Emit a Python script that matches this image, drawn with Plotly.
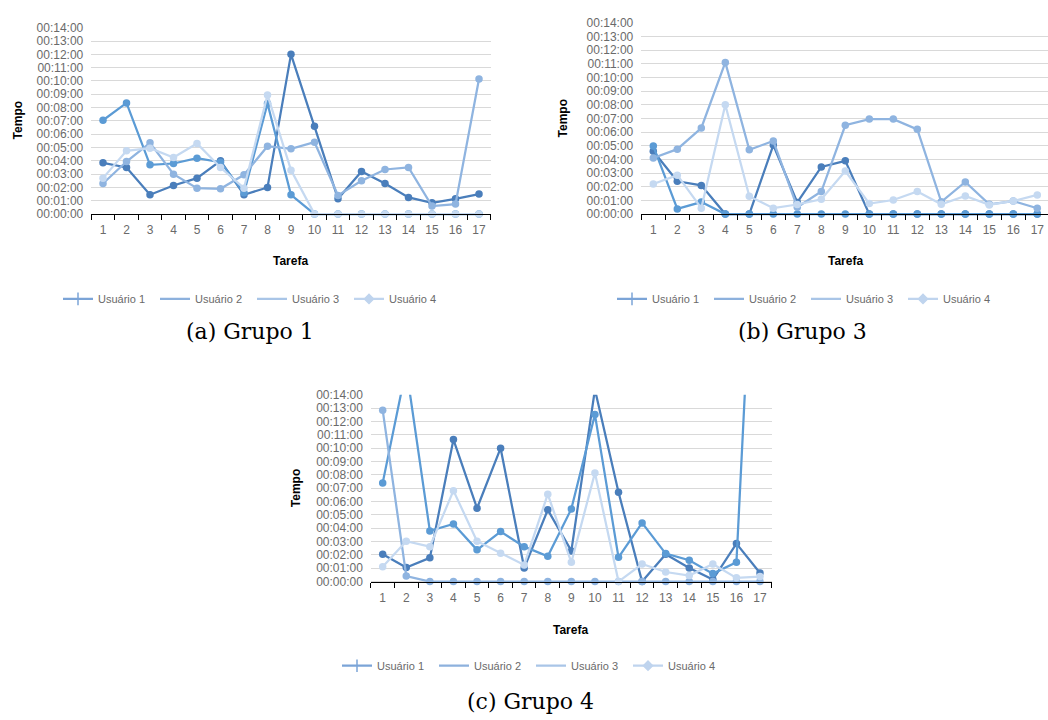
import plotly.graph_objects as go

# ---------------- data (minutes) ----------------
tasks = list(range(1, 18))
task_labels = [str(t) for t in tasks]
users = ["Usuário 1", "Usuário 2", "Usuário 3", "Usuário 4"]

# Grupo 1
g1_u1 = [3.85, 3.5, 1.45, 2.15, 2.7, 4.0, 1.45, 2.0, 12.0, 6.6, 1.15, 3.2, 2.3, 1.25, 0.85, 1.15, 1.5]
g1_u2 = [7.05, 8.35, 3.7, 3.8, 4.2, 3.9, 1.6, 8.3, 1.45, 0, 0, 0, 0, 0, 0, 0, 0]
g1_u3 = [2.3, 3.95, 5.35, 3.0, 1.95, 1.9, 2.95, 5.1, 4.9, 5.4, 1.4, 2.5, 3.35, 3.5, 0.6, 0.75, 10.15]
g1_u4 = [2.7, 4.75, 4.95, 4.25, 5.3, 3.5, 1.95, 8.95, 3.3, 0, 0, 0, 0, 0, 0, 0, 0]

# Grupo 3
g3_u1 = [4.6, 2.4, 2.1, 0, 0, 5.05, 0.85, 3.45, 3.9, 0, 0, 0, 0, 0, 0, 0, 0]
g3_u2 = [4.98, 0.38, 0.88, 0, 0, 0, 0, 0, 0, 0, 0, 0, 0, 0, 0, 0, 0]
g3_u3 = [4.1, 4.75, 6.3, 11.1, 4.7, 5.35, 0.5, 1.65, 6.5, 6.95, 6.95, 6.2, 0.9, 2.35, 0.72, 0.95, 0.43]
g3_u4 = [2.2, 2.85, 0.43, 8.0, 1.3, 0.43, 0.7, 1.08, 3.15, 0.77, 1.03, 1.65, 0.72, 1.32, 0.67, 0.96, 1.4]

# Grupo 4
g4_u1 = [2.05, 1.05, 1.78, 10.65, 5.5, 10.0, 1.02, 5.38, 2.3, 14.4, 6.7, 0, 2.05, 1.02, 0.15, 2.85, 0.65]
g4_u2 = [7.4, 16.0, 3.8, 4.32, 2.38, 3.75, 2.62, 1.9, 5.45, 12.52, 1.82, 4.4, 2.1, 1.6, 0.6, 1.45, 37.0]
g4_u3 = [12.85, 0.42, 0, 0, 0, 0, 0, 0, 0, 0, 0, 0, 0, 0, 0, 0, 0]
g4_u4 = [1.12, 3.03, 2.62, 6.82, 3.03, 2.12, 1.25, 6.55, 1.45, 8.15, 0, 1.32, 0.72, 0.45, 1.32, 0.28, 0.38]

groups = [
    [g1_u1, g1_u2, g1_u3, g1_u4],
    [g3_u1, g3_u2, g3_u3, g3_u4],
    [g4_u1, g4_u2, g4_u3, g4_u4],
]
captions = ["(a) Grupo 1", "(b) Grupo 3", "(c) Grupo 4"]
minute_ticks = list(range(0, 15))
minute_labels = [f"00:{m:02d}:00" for m in minute_ticks]

# ---------------- styles ----------------
W, H = 1048, 720
line_colors = ["#4a7ebb", "#5b9bd5", "#8fb4e0", "#c5d9f1"]
legend_colors = ["#7ba4d7", "#8db1dd", "#a9c5e7", "#bfd4ee"]
legend_symbols = ["line-ns-open", None, None, "diamond"]
GRAY = "#6a6a6a"
SANS = "Liberation Sans"

# pixel geometry of each panel: left, right, y(14 min), y(0 min), x range end
panels = [
    dict(left=91.25, right=490.75, y14=21.0, y0=210.0, xend=17.5,
         tarefa=(290, 258), tempo=(18, 115), legend=(252, 296), cap=(250, 329)),
    dict(left=641.3, right=1048.0, y14=16.0, y0=210.0, xend=0.5 + (1048.0 - 641.3) / 24.0,
         tarefa=(845, 258), tempo=(563, 113), legend=(806, 296), cap=(802, 329)),
    dict(left=370.9, right=771.8, y14=393.3, y0=582.7, xend=17.5,
         tarefa=(570, 632), tempo=(296, 488), legend=(531, 668), cap=(530, 704)),
]
YMIN = -0.32
boundaries = [i + 0.5 for i in range(0, 18)]

fig = go.Figure()
layout_updates = {}
annotations = []

for gi, (series, p) in enumerate(zip(groups, panels)):
    n = gi + 1
    sfx = "" if n == 1 else str(n)
    xa, ya = "x" + sfx, "y" + sfx
    ppm = (p["y0"] - p["y14"]) / 14.0
    ybottom = p["y0"] - YMIN * ppm
    xdom = [p["left"] / W, p["right"] / W]
    ydom = [1 - ybottom / H, 1 - p["y14"] / H]
    axis_pos = 1 - p["y0"] / H

    for ui, vals in enumerate(series):
        fig.add_trace(go.Scatter(
            x=tasks, y=vals, mode="lines+markers", xaxis=xa, yaxis=ya,
            line=dict(color=line_colors[ui], width=2.25),
            marker=dict(color=line_colors[ui], size=7.5),
            showlegend=False, name=users[ui], cliponaxis=True,
        ))
    # legend entries (styled like the original legend)
    legname = "legend" + sfx
    for ui, u in enumerate(users):
        sym = legend_symbols[ui]
        fig.add_trace(go.Scatter(
            x=[None], y=[None], xaxis=xa, yaxis=ya, name=u,
            mode="lines+markers" if sym else "lines",
            line=dict(color=legend_colors[ui], width=2.25),
            marker=dict(symbol=sym or "circle", size=7 if sym == "diamond" else 9,
                        color=legend_colors[ui],
                        line=dict(color=legend_colors[ui], width=1.5)),
            legend=legname, showlegend=True,
        ))

    layout_updates["xaxis" + sfx] = dict(
        domain=xdom, range=[0.5, p["xend"]], anchor="free", position=axis_pos,
        tickmode="array", tickvals=tasks, ticktext=task_labels, ticks="",
        showgrid=False, zeroline=False, showline=True, linecolor="#000000", linewidth=1,
        tickfont=dict(family=SANS, size=12, color=GRAY), ticklabelstandoff=5,
        minor=dict(tickmode="array", tickvals=boundaries, ticks="outside", ticklen=5,
                   tickcolor="#000000", tickwidth=1, showgrid=False),
    )
    layout_updates["yaxis" + sfx] = dict(
        domain=ydom, range=[YMIN, 14], anchor=xa,
        tickmode="array", tickvals=minute_ticks, ticktext=minute_labels, ticks="",
        showgrid=True, gridcolor="#d9d9d9", gridwidth=1, zeroline=False, showline=False,
        tickfont=dict(family=SANS, size=12, color=GRAY), ticklabelstandoff=7,
    )
    # overlay axis for the inner half of the cross ticks
    ov = 3 + n
    layout_updates["xaxis" + str(ov)] = dict(
        overlaying=xa, range=[0.5, p["xend"]], anchor="free", position=axis_pos,
        tickmode="array", tickvals=boundaries, ticks="inside", ticklen=5,
        tickcolor="#000000", tickwidth=1, showticklabels=False,
        showgrid=False, zeroline=False, showline=False,
    )
    layout_updates[legname] = dict(
        orientation="h", x=p["legend"][0] / W, y=1 - p["legend"][1] / H,
        xanchor="center", yanchor="middle", bgcolor="rgba(0,0,0,0)",
        font=dict(family=SANS, size=11, color=GRAY),
        entrywidth=52, entrywidthmode="pixels", itemwidth=30,
        tracegroupgap=0,
    )
    annotations.append(dict(
        text="<b>Tarefa</b>", x=p["tarefa"][0] / W, y=1 - p["tarefa"][1] / H,
        xref="paper", yref="paper", showarrow=False,
        font=dict(family=SANS, size=12, color="#000000"), xanchor="center", yanchor="middle"))
    annotations.append(dict(
        text="<b>Tempo</b>", x=p["tempo"][0] / W, y=1 - p["tempo"][1] / H,
        xref="paper", yref="paper", showarrow=False, textangle=-90,
        font=dict(family=SANS, size=12, color="#000000"), xanchor="center", yanchor="middle"))
    annotations.append(dict(
        text=captions[gi], x=p["cap"][0] / W, y=1 - p["cap"][1] / H,
        xref="paper", yref="paper", showarrow=False,
        font=dict(family="DejaVu Serif", size=22, color="#000000"),
        xanchor="center", yanchor="middle"))

fig.update_layout(
    width=W, height=H, margin=dict(l=0, r=0, t=0, b=0),
    paper_bgcolor="#ffffff", plot_bgcolor="#ffffff",
    annotations=annotations, **layout_updates,
)

fig.write_html(
    "out.html",
    config={"displayModeBar": False},
    post_script="document.body.style.margin='0px';document.body.style.padding='0px';",
)
